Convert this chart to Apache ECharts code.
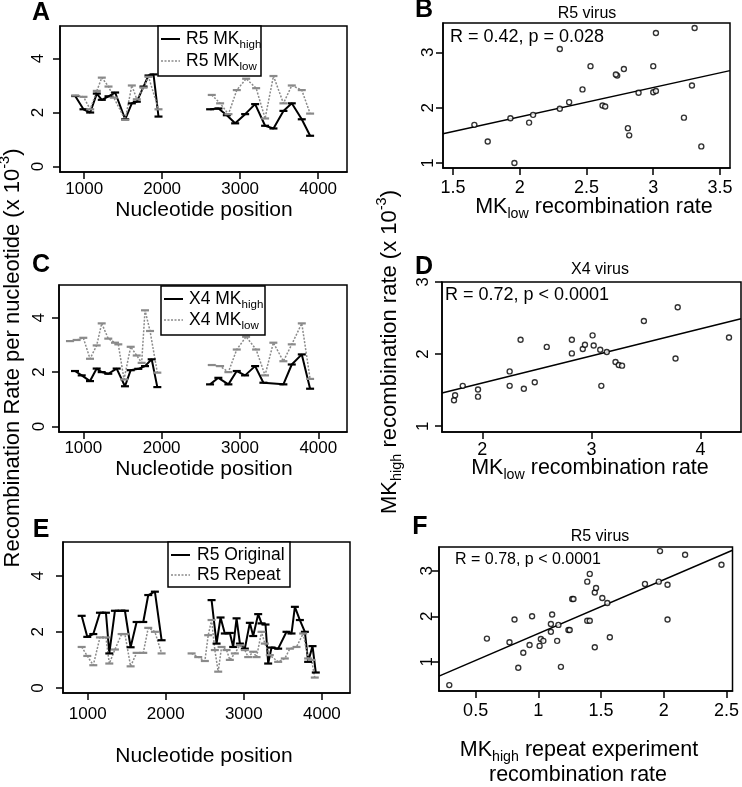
<!DOCTYPE html>
<html>
<head>
<meta charset="utf-8">
<script src="https://cdn.jsdelivr.net/npm/echarts@6/dist/echarts.min.js"></script>
<style>
  html, body { margin: 0; background: #fff; }
  #chart { width: 742px; height: 787px; }
</style>
</head>
<body>
<div id="chart"></div>
<script>
// ---- panel A: R5, MK high vs MK low along the genome ----
const aHighLeftX = [885, 991, 1077, 1162, 1226, 1312, 1397, 1526, 1611, 1675, 1761, 1825, 1889, 1953]
const aHighLeftY = [2.61, 2.12, 2.0, 2.7, 2.47, 2.6, 2.74, 1.75, 2.34, 2.4, 2.96, 3.37, 3.41, 1.85]
const aLowLeftX = [885, 991, 1077, 1162, 1226, 1312, 1380, 1526, 1611, 1675, 1761, 1825, 1953]
const aLowLeftY = [2.63, 2.58, 2.12, 2.8, 3.29, 2.96, 2.55, 1.73, 3.0, 2.49, 2.92, 3.32, 2.12]
const aHighRightX = [2615, 2722, 2829, 2936, 3064, 3192, 3320, 3427, 3555, 3662, 3790, 3897]
const aHighRightY = [2.12, 2.15, 1.9, 1.6, 1.94, 2.31, 1.51, 1.41, 2.06, 2.34, 1.75, 1.14]
const aLowRightX = [2636, 2743, 2850, 2957, 3077, 3205, 3320, 3427, 3555, 3662, 3790, 3897]
const aLowRightY = [2.65, 2.34, 1.94, 2.83, 3.25, 2.9, 1.78, 3.35, 2.34, 3.0, 2.83, 1.96]

// ---- panel C: X4 ----
const cHighLeftX = [894, 980, 1086, 1171, 1235, 1319, 1426, 1532, 1605, 1702, 1788, 1873, 1945]
const cHighLeftY = [2.04, 1.88, 1.67, 2.13, 2.0, 1.94, 2.13, 1.48, 2.07, 2.12, 2.22, 2.47, 1.45]
const cLowLeftX = [830, 915, 1000, 1086, 1171, 1235, 1319, 1405, 1447, 1520, 1605, 1682, 1745, 1788, 1852, 1945]
const cLowLeftY = [3.14, 3.18, 3.26, 2.49, 2.98, 3.79, 3.23, 3.08, 3.02, 1.73, 2.93, 2.61, 2.34, 4.27, 3.51, 1.98]
const cHighRightX = [2618, 2724, 2852, 2959, 3065, 3193, 3299, 3554, 3661, 3789, 3895]
const cHighRightY = [1.55, 1.79, 1.55, 2.04, 1.88, 2.22, 1.61, 1.55, 2.28, 2.65, 1.39]
const cLowRightX = [2640, 2746, 2852, 2959, 3078, 3206, 3320, 3426, 3554, 3661, 3789, 3895]
const cLowRightY = [2.26, 2.22, 2.0, 2.83, 3.3, 2.83, 1.88, 3.08, 2.4, 3.02, 3.79, 1.75]

// ---- panel E: R5 original vs repeat ----
const eLeftX = [923, 995, 1072, 1157, 1234, 1277, 1349, 1435, 1477, 1550, 1627, 1712, 1776, 1861, 1947]
const eOrigLeftY = [2.57, 1.82, 1.92, 2.68, 2.68, 1.23, 2.75, 2.75, 2.75, 1.45, 2.35, 2.35, 3.31, 3.43, 1.7]
const eRepLeftY = [1.46, 1.14, 0.81, 1.8, 1.8, 0.87, 1.37, 1.92, 1.92, 0.77, 1.25, 1.25, 2.14, 2.0, 1.23]
const eOrigRightX = [2587, 2651, 2702, 2757, 2821, 2864, 2907, 2950, 3013, 3077, 3120, 3184, 3227, 3278, 3312, 3355, 3440, 3547, 3611, 3654, 3718, 3782, 3824, 3880, 3922]
const eOrigRightY = [3.13, 1.58, 2.51, 1.94, 1.96, 1.46, 2.48, 1.58, 1.4, 2.32, 1.85, 2.63, 2.3, 2.26, 0.87, 1.44, 1.4, 2.0, 1.94, 2.89, 2.42, 2.0, 0.93, 1.49, 0.55]
const eRepRightX = [2331, 2416, 2501, 2544, 2587, 2629, 2672, 2715, 2779, 2821, 2885, 2950, 3013, 3056, 3120, 3163, 3227, 3269, 3333, 3440, 3525, 3590, 3675, 3760, 3824, 3867, 3909]
const eRepRightY = [1.23, 1.1, 0.96, 1.88, 2.42, 1.35, 0.58, 1.46, 1.35, 1.0, 1.23, 1.52, 1.35, 1.1, 1.29, 1.1, 2.0, 1.58, 1.17, 0.93, 1.05, 1.4, 1.46, 1.94, 1.05, 1.0, 0.37]

// ---- panel B: R5 scatter ----
const bLowX = [1.66, 1.76, 1.93, 1.96, 2.07, 2.10, 2.30, 2.30, 2.37, 2.47, 2.53, 2.62, 2.64, 2.73, 2.72, 2.78, 2.81, 2.82, 2.89, 3.00, 3.02, 3.00, 3.02, 3.23, 3.29, 3.31, 3.36]
const bHighY = [1.69, 1.39, 1.81, 1.00, 1.73, 1.87, 1.98, 3.06, 2.10, 2.33, 2.75, 2.04, 2.02, 2.58, 2.60, 2.70, 1.63, 1.50, 2.27, 2.28, 2.30, 2.75, 3.35, 1.82, 2.40, 3.44, 1.30]
const bIntercept = 0.775, bSlope = 0.53

// ---- panel D: X4 scatter ----
const dLowX = [1.74, 1.75, 1.82, 1.96, 1.96, 2.25, 2.25, 2.35, 2.38, 2.48, 2.59, 2.82, 2.82, 2.92, 2.94, 3.01, 3.02, 3.08, 3.09, 3.14, 3.22, 3.25, 3.28, 3.48, 3.77, 3.79, 4.26]
const dHighY = [1.36, 1.43, 1.56, 1.51, 1.41, 1.76, 1.56, 2.20, 1.52, 1.61, 2.10, 2.20, 2.01, 2.07, 2.13, 2.26, 2.12, 2.06, 1.56, 2.03, 1.89, 1.85, 1.84, 2.46, 1.94, 2.65, 2.23]
const dIntercept = 0.85, dSlope = 0.3755

// ---- panel F: repeat vs original ----
const fRepX = [0.29, 0.59, 0.77, 0.81, 0.84, 0.88, 0.93, 0.95, 1.01, 1.02, 1.04, 1.10, 1.10, 1.11, 1.15, 1.16, 1.18, 1.24, 1.25, 1.27, 1.28, 1.39, 1.39, 1.41, 1.41, 1.45, 1.45, 1.46, 1.51, 1.55, 1.57, 1.85, 1.96, 1.97, 2.03, 2.03, 2.17, 2.46]
const fOrigY = [0.49, 1.51, 1.43, 1.93, 0.87, 1.20, 1.37, 2.00, 1.35, 1.50, 1.46, 1.66, 1.83, 2.04, 1.46, 1.81, 0.89, 1.70, 1.70, 2.38, 2.38, 2.76, 1.90, 1.90, 2.93, 1.32, 2.52, 2.62, 2.40, 2.29, 1.54, 2.71, 2.76, 3.43, 1.93, 2.69, 3.35, 3.13]
const fIntercept = 0.44, fSlope = 1.181

const posTicks = [1000, 2000, 3000, 4000]
const rateTicks = [0, 2, 4]

const FONT = '"Liberation Sans", Arial, Helvetica, sans-serif'
const zip = (xs, ys) => xs.map((x, i) => [x, ys[i]])

const ctx = document.createElement('canvas').getContext('2d')
function textWidth(t, size, weight) {
  ctx.font = (weight || 'normal') + ' ' + size + 'px ' + FONT
  return ctx.measureText(t).width
}

// text made of pieces, some of them sub/superscript; centred (or left) on x,y
function richText(parts, size, x, y, opts = {}) {
  const pieces = parts.map(([t, kind]) => {
    const s = kind ? size * 0.66 : size
    return { t, kind, s, w: textWidth(t, s) }
  })
  const total = pieces.reduce((a, p) => a + p.w, 0)
  let cx = opts.align === 'left' ? 0 : -total / 2
  const children = pieces.map(p => {
    const dy = p.kind === 'sub' ? size * 0.34 : p.kind === 'sup' ? -size * 0.36 : 0
    const el = {
      type: 'text', x: cx, y: dy, z: 100,
      style: { text: p.t, fontSize: p.s, fontFamily: FONT, fill: '#000', align: 'left', verticalAlign: 'middle' }
    }
    cx += p.w
    return el
  })
  return { type: 'group', x, y, rotation: opts.rotate ? Math.PI / 2 : 0, children }
}

const grids = [
  { left: 60, top: 26, width: 287, height: 146 },   // A
  { left: 59, top: 285, width: 288, height: 147 },  // C
  { left: 63, top: 542, width: 287, height: 151 },  // E
  { left: 443, top: 23, width: 287, height: 145 },  // B
  { left: 442, top: 282, width: 299, height: 150 }, // D
  { left: 439, top: 547, width: 294, height: 144 }  // F
].map(g => Object.assign({ show: true, borderColor: '#000', borderWidth: 1.5, containLabel: false }, g))

function xAx(i, min, max, ticks, margin, size) {
  return {
    gridIndex: i, type: 'value', min, max,
    axisLine: { show: true, onZero: false, lineStyle: { color: '#000', width: 1.5 } },
    axisTick: { show: true, length: 7, customValues: ticks, lineStyle: { color: '#000', width: 1.5 } },
    axisLabel: { customValues: ticks, margin, color: '#000', fontSize: size, fontFamily: FONT, formatter: v => String(v) },
    splitLine: { show: false }
  }
}
function yAx(i, min, max, ticks, margin, size) {
  return {
    gridIndex: i, type: 'value', min, max,
    axisLine: { show: true, onZero: false, lineStyle: { color: '#000', width: 1.5 } },
    axisTick: { show: true, length: 7, customValues: ticks, lineStyle: { color: '#000', width: 1.5 } },
    axisLabel: { customValues: ticks, margin, rotate: 90, color: '#000', fontSize: size, fontFamily: FONT, formatter: v => String(v) },
    splitLine: { show: false }
  }
}

const xAxes = [
  xAx(0, 690, 4370, posTicks, 9, 17),
  xAx(1, 690, 4366, posTicks, 8, 17),
  xAx(2, 684, 4360, posTicks, 13, 17),
  xAx(3, 1.425, 3.575, [1.5, 2, 2.5, 3, 3.5], 11, 18),
  xAx(4, 1.63, 4.37, [2, 3, 4], 9, 18),
  xAx(5, 0.208, 2.548, [0.5, 1, 1.5, 2, 2.5], 11, 18)
]
const yAxes = [
  yAx(0, -0.2, 5.2, rateTicks, 13, 17),
  yAx(1, -0.2, 5.2, rateTicks, 11, 17),
  yAx(2, -0.18, 5.2, rateTicks, 16, 17),
  yAx(3, 0.91, 3.53, [1, 2, 3], 6, 17),
  yAx(4, 0.92, 3.0, [1, 2, 3], 10, 17),
  yAx(5, 0.36, 3.52, [1, 2, 3], 3, 17)
]

const solid = { color: '#000', width: 2, type: 'solid' }
const dotted = { color: '#8a8a8a', width: 1.5, type: [2, 1.5] }

function track(i, xs, ys, style) {
  return {
    type: 'line', xAxisIndex: i, yAxisIndex: i, data: zip(xs, ys),
    symbol: 'rect', symbolSize: [8, 2.2], showSymbol: true,
    lineStyle: style, itemStyle: { color: style.color }, animation: false, silent: true
  }
}
function dots(i, xs, ys) {
  return {
    type: 'scatter', xAxisIndex: i, yAxisIndex: i, data: zip(xs, ys),
    symbol: 'circle', symbolSize: 5,
    itemStyle: { color: '#fff', borderColor: '#000', borderWidth: 1.4 }, animation: false, silent: true, z: 3
  }
}
function fit(i, a, b) {
  const ax = xAxes[i]
  return {
    type: 'line', xAxisIndex: i, yAxisIndex: i,
    data: [[ax.min, a + b * ax.min], [ax.max, a + b * ax.max]],
    showSymbol: false, lineStyle: { color: '#000', width: 1.5 }, animation: false, silent: true, z: 2
  }
}

const series = [
  track(0, aHighLeftX, aHighLeftY, solid), track(0, aHighRightX, aHighRightY, solid),
  track(0, aLowLeftX, aLowLeftY, dotted), track(0, aLowRightX, aLowRightY, dotted),
  track(1, cHighLeftX, cHighLeftY, solid), track(1, cHighRightX, cHighRightY, solid),
  track(1, cLowLeftX, cLowLeftY, dotted), track(1, cLowRightX, cLowRightY, dotted),
  track(2, eLeftX, eOrigLeftY, solid), track(2, eOrigRightX, eOrigRightY, solid),
  track(2, eLeftX, eRepLeftY, dotted), track(2, eRepRightX, eRepRightY, dotted),
  fit(3, bIntercept, bSlope), dots(3, bLowX, bHighY),
  fit(4, dIntercept, dSlope), dots(4, dLowX, dHighY),
  fit(5, fIntercept, fSlope), dots(5, fRepX, fOrigY)
]

function legendBox(x, y, w, h, rows) {
  const els = [{ type: 'rect', shape: { x, y, width: w, height: h }, style: { fill: '#fff', stroke: '#000', lineWidth: 1.5 }, z: 90 }]
  rows.forEach(r => {
    els.push({ type: 'line', shape: { x1: x + 3, y1: r.y, x2: x + 22, y2: r.y }, style: r.dotted ? { stroke: '#8a8a8a', lineWidth: 1.5, lineDash: [2, 1.5] } : { stroke: '#000', lineWidth: 2 }, z: 95 })
    els.push(richText(r.parts, 17.5, r.tx, r.y, { align: 'left' }))
  })
  return els
}

const letter = (t, x, y) => ({ type: 'text', x, y, z: 100, style: { text: t, fontSize: 25, fontWeight: 'bold', fontFamily: FONT, fill: '#000', align: 'center', verticalAlign: 'middle' } })

const graphics = [
  letter('A', 41, 13), letter('B', 424, 10), letter('C', 41, 265),
  letter('D', 424, 267), letter('E', 41, 530), letter('F', 420, 527),
  richText([['R5 virus', '']], 16, 587, 14),
  richText([['X4 virus', '']], 16, 600, 270),
  richText([['R5 virus', '']], 16, 600, 537),
  richText([['R = 0.42, p = 0.028', '']], 18, 450, 37, { align: 'left' }),
  richText([['R = 0.72, p < 0.0001', '']], 18, 445, 295, { align: 'left' }),
  richText([['R = 0.78, p < 0.0001', '']], 16, 455, 560, { align: 'left' }),
  richText([['Nucleotide position', '']], 21, 204, 210),
  richText([['Nucleotide position', '']], 21, 204, 469),
  richText([['Nucleotide position', '']], 21, 204, 756),
  richText([['MK', ''], ['low', 'sub'], [' recombination rate', '']], 21.5, 594, 207),
  richText([['MK', ''], ['low', 'sub'], [' recombination rate', '']], 21.5, 590, 468),
  richText([['MK', ''], ['high', 'sub'], [' repeat experiment', '']], 21.5, 579, 750),
  richText([['recombination rate', '']], 21.5, 578, 775),
  richText([['Recombination Rate per nucleotide (x 10', ''], ['-3', 'sup'], [')', '']], 22, 13, 358, { rotate: true }),
  richText([['MK', ''], ['high', 'sub'], [' recombination rate (x 10', ''], ['-3', 'sup'], [')', '']], 22, 390, 352, { rotate: true }),
  ...legendBox(158, 26, 103, 50, [
    { y: 39, tx: 186, parts: [['R5 MK', ''], ['high', 'sub']] },
    { y: 61, tx: 186, dotted: true, parts: [['R5 MK', ''], ['low', 'sub']] }
  ]),
  ...legendBox(161, 286, 104, 49, [
    { y: 299, tx: 189, parts: [['X4 MK', ''], ['high', 'sub']] },
    { y: 320, tx: 189, dotted: true, parts: [['X4 MK', ''], ['low', 'sub']] }
  ]),
  ...legendBox(168, 542, 122, 45, [
    { y: 555, tx: 197, parts: [['R5 Original', '']] },
    { y: 575, tx: 197, dotted: true, parts: [['R5 Repeat', '']] }
  ])
]

const chart = echarts.init(document.getElementById('chart'), null, { renderer: 'canvas' })
chart.setOption({
  backgroundColor: '#fff',
  animation: false,
  grid: grids,
  xAxis: xAxes,
  yAxis: yAxes,
  series,
  graphic: graphics
})
</script>
</body>
</html>
